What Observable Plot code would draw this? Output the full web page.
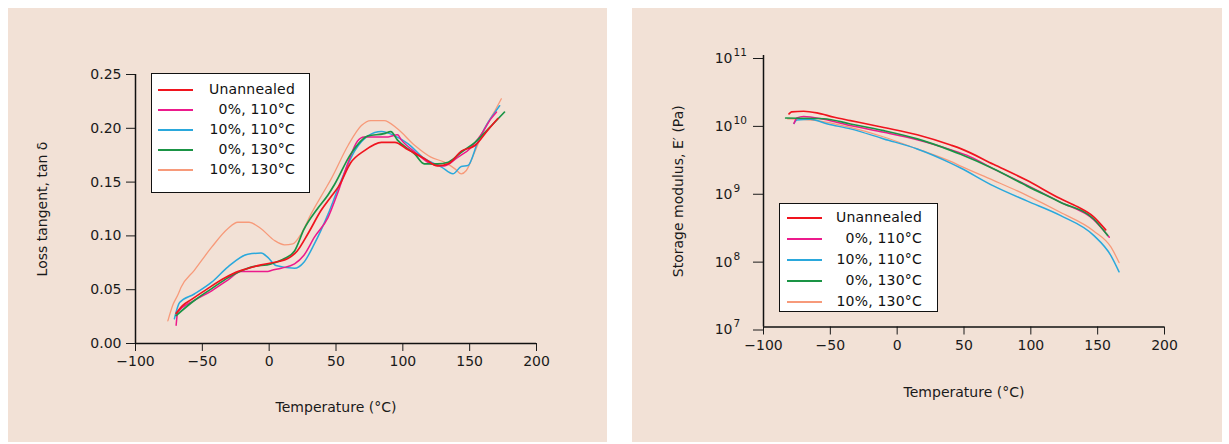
<!DOCTYPE html>
<html>
<head>
<meta charset="utf-8">
<script src="https://cdn.jsdelivr.net/npm/d3@7"></script>
<script src="https://cdn.jsdelivr.net/npm/@observablehq/plot@0.6"></script>
<style>
  html, body { margin: 0; padding: 0; background: #ffffff; }
  body { width: 1229px; height: 444px; position: relative; overflow: hidden; font-family: "DejaVu Sans", sans-serif; color: #1a1a1a; }
  .panel { position: absolute; top: 8px; height: 434px; background: #f2e1d6; }
  .chart { position: absolute; top: 0; }
  .legend { position: absolute; background: #ffffff; border: 1.5px solid #111; box-sizing: border-box; }
  .sw { position: absolute; height: 0; border-top: 2px solid; }
  .lab { position: absolute; font-size: 14px; line-height: 16px; white-space: nowrap; text-align: right; letter-spacing: 0.2px; color: #111; }
</style>
</head>
<body>
<div class="panel" style="left:8px;width:599px;"></div>
<div class="panel" style="left:632px;width:590px;"></div>
<div id="left" class="chart" style="left:0px;"></div>
<div id="right" class="chart" style="left:620px;"></div>
<script>
// ---------- series ----------
const seriesNames = ["Unannealed", "0%, 110°C", "10%, 110°C", "0%, 130°C", "10%, 130°C"];
const seriesColors = ["#f0141e", "#ec1a8c", "#2aa8dc", "#1a9445", "#f79a7a"];

// ---------- tick values ----------
const tempTicks = [-100, -50, 0, 50, 100, 150, 200];
const lossTicks = [0, 0.05, 0.10, 0.15, 0.20, 0.25];
const modulusTicks = [1e7, 1e8, 1e9, 1e10, 1e11];

// ---------- loss tangent (tan δ) ----------
const lossTempUnannealed = [-69.6, -65, -58, -46, -33, -23, -18, -6, 6, 14, 21, 29, 39, 46, 52, 61, 71, 84, 94, 104, 116, 126, 134, 144, 154, 164, 171];
const lossUnannealed     = [0.028, 0.035, 0.041, 0.051, 0.061, 0.067, 0.069, 0.073, 0.076, 0.079, 0.086, 0.102, 0.124, 0.136, 0.146, 0.168, 0.179, 0.187, 0.187, 0.180, 0.172, 0.165, 0.167, 0.179, 0.184, 0.199, 0.209];

const lossTemp0_110 = [-69.6, -68.4, -56, -43, -31, -21, -1, 2, 9, 19, 26, 34, 44, 51, 59, 66, 71, 89, 96, 99, 109, 121, 131, 141, 151, 159, 166, 170];
const loss0_110     = [0.017, 0.029, 0.040, 0.049, 0.059, 0.067, 0.067, 0.068, 0.070, 0.074, 0.082, 0.099, 0.117, 0.139, 0.168, 0.188, 0.192, 0.192, 0.194, 0.189, 0.178, 0.167, 0.165, 0.173, 0.182, 0.195, 0.209, 0.215];

const lossTemp10_110 = [-70.9, -67, -56, -43, -31, -16, -6, -1, 5, 19, 26, 34, 44, 54, 64, 74, 84, 94, 104, 116, 129, 137.5, 143.7, 148.7, 156, 164, 169, 172.4];
const loss10_110     = [0.023, 0.038, 0.046, 0.057, 0.071, 0.083, 0.084, 0.080, 0.0725, 0.070, 0.0756, 0.093, 0.120, 0.152, 0.179, 0.193, 0.197, 0.193, 0.1856, 0.172, 0.164, 0.1577, 0.1645, 0.1654, 0.187, 0.206, 0.215, 0.221];

const lossTemp0_130 = [-69.6, -56, -43, -31, -20, -13.5, 1.5, 11.5, 19, 26, 36, 44, 49, 61, 74, 86, 91, 96, 109, 116, 126, 134, 144, 154, 164, 176];
const loss0_130     = [0.026, 0.040, 0.051, 0.061, 0.068, 0.071, 0.074, 0.079, 0.086, 0.106, 0.125, 0.138, 0.148, 0.176, 0.193, 0.195, 0.197, 0.189, 0.176, 0.167, 0.167, 0.1685, 0.178, 0.187, 0.1995, 0.215];

const lossTemp10_130 = [-75.8, -72, -68, -66, -56, -43, -31, -23.5, -15, -6, 4, 11.5, 17.7, 24, 31.4, 41.4, 46.4, 59, 69, 76, 86, 96, 109, 121, 131, 139, 143.7, 147.5, 153.7, 161, 169, 173.7];
const loss10_130     = [0.021, 0.036, 0.046, 0.052, 0.068, 0.0895, 0.1066, 0.1127, 0.1127, 0.1066, 0.0957, 0.0917, 0.0926, 0.102, 0.1205, 0.1422, 0.153, 0.184, 0.2026, 0.2072, 0.2072, 0.1995, 0.184, 0.1732, 0.1685, 0.1623, 0.1577, 0.1608, 0.1778, 0.1995, 0.2165, 0.2274];

// ---------- storage modulus E' (Pa) ----------
const modTempUnannealed = [-80.9, -79, -70, -60, -47, -35, -10, 15, 40, 47.5, 72, 97, 122, 135, 147, 156];
const modUnannealed     = [1.38e10, 1.48e10, 1.51e10, 1.43e10, 1.23e10, 1.10e10, 8.7e9, 6.8e9, 4.8e9, 4.25e9, 2.5e9, 1.45e9, 7.8e8, 5.9e8, 4.2e8, 2.7e8];

const modTemp0_110 = [-77.2, -75, -70, -55, -35, -10, 15, 40, 52, 72, 97, 122, 147, 158.7];
const mod0_110     = [1.0e10, 1.2e10, 1.26e10, 1.15e10, 9.3e9, 7.4e9, 5.75e9, 4.1e9, 3.4e9, 2.14e9, 1.23e9, 6.9e8, 3.8e8, 2.1e8];

const modTemp10_110 = [-77.2, -75, -65, -52, -35, -10, 15, 40, 47.5, 72, 97, 122, 147, 160, 166];
const mod10_110     = [1.0e10, 1.12e10, 1.15e10, 9.8e9, 8.3e9, 5.9e9, 4.2e9, 2.6e9, 2.2e9, 1.2e9, 7.2e8, 4.4e8, 2.24e8, 1.12e8, 6.5e7];

const modTemp0_130 = [-83.4, -55, -35, -10, 15, 40, 47.5, 72, 97, 122, 147, 157.4];
const mod0_130     = [1.20e10, 1.17e10, 9.8e9, 7.8e9, 5.9e9, 4.0e9, 3.5e9, 2.14e9, 1.20e9, 6.9e8, 3.9e8, 2.24e8];

const modTemp10_130 = [-82, -60, -35, -10, 15, 40, 47.5, 72, 97, 122, 147, 160, 166];
const mod10_130     = [1.17e10, 1.10e10, 8.7e9, 6.3e9, 4.2e9, 2.75e9, 2.35e9, 1.45e9, 8.7e8, 4.9e8, 2.6e8, 1.5e8, 8.9e7];

// ---------- build tables ----------
const lossTemps = [lossTempUnannealed, lossTemp0_110, lossTemp10_110, lossTemp0_130, lossTemp10_130];
const lossVals  = [lossUnannealed, loss0_110, loss10_110, loss0_130, loss10_130];
const modTemps  = [modTempUnannealed, modTemp0_110, modTemp10_110, modTemp0_130, modTemp10_130];
const modVals   = [modUnannealed, mod0_110, mod10_110, mod0_130, mod10_130];

function table(temps, vals) {
  return seriesNames.map((s, i) => temps[i].map((t, j) => ({series: s, T: t, v: vals[i][j]})));
}
const lossTables = table(lossTemps, lossVals);
const modTables = table(modTemps, modVals);

const widths = [1.7, 1.5, 1.5, 1.7, 1.3];
const drawOrder = [4, 2, 1, 3, 0];

const baseStyle = {background: "transparent", fontFamily: '"DejaVu Sans", sans-serif', fontSize: "14px", color: "#1a1a1a", overflow: "visible"};

const leftPlot = Plot.plot({
  width: 620, height: 444,
  marginLeft: 135, marginRight: 84, marginTop: 74, marginBottom: 101,
  style: baseStyle,
  x: {domain: [-100, 200], ticks: tempTicks, tickSize: 8, tickPadding: 5, label: "Temperature (°C)", labelAnchor: "center", labelArrow: "none", labelOffset: 68},
  y: {domain: [0, 0.25], ticks: lossTicks, tickFormat: d3.format(".2f"), tickSize: 9, tickPadding: 5, label: "Loss tangent, tan δ", labelAnchor: "center", labelArrow: "none", labelOffset: 98},
  color: {domain: seriesNames, range: seriesColors},
  marks: [
    ...drawOrder.map(i => Plot.line(lossTables[i], {x: "T", y: "v", stroke: "series", strokeWidth: widths[i], curve: "monotone-x"})),
    Plot.ruleX([-100], {stroke: "#111", strokeWidth: 1.5}),
    Plot.ruleY([0], {stroke: "#111", strokeWidth: 1.5})
  ]
});
document.getElementById("left").appendChild(leftPlot);

const rightPlot = Plot.plot({
  width: 609, height: 444,
  marginLeft: 143, marginRight: 65, marginTop: 55, marginBottom: 117.5,
  style: baseStyle,
  x: {domain: [-100, 200], ticks: tempTicks, tickSize: 8, tickPadding: 5, label: "Temperature (°C)", labelAnchor: "center", labelArrow: "none", labelOffset: 70},
  y: {type: "log", domain: [1e7, 1e11]},
  color: {domain: seriesNames, range: seriesColors},
  marks: [
    Plot.axisY(modulusTicks, {tickFormat: () => "10", tickSize: 10, tickPadding: 21, dy: 3, label: "Storage modulus, E\u2032 (Pa)", labelAnchor: "center", labelArrow: "none", labelOffset: 90}),
    Plot.text(modulusTicks, {y: d => d, frameAnchor: "left", text: d => String(Math.round(Math.log10(d))), dx: -30, dy: -3, textAnchor: "start", fontSize: 10.5, fill: "#1a1a1a"}),
    ...drawOrder.map(i => Plot.line(modTables[i], {x: "T", y: "v", stroke: "series", strokeWidth: widths[i], curve: "monotone-x"})),
    Plot.ruleX([-100], {stroke: "#111", strokeWidth: 1.5}),
    Plot.ruleY([1e7], {stroke: "#111", strokeWidth: 1.5})
  ]
});
document.getElementById("right").appendChild(rightPlot);

// ---------- legends (HTML overlays) ----------
function legend(left, top, w, h, first, step, sx0, sx1, textRight) {
  const box = document.createElement("div");
  box.className = "legend";
  Object.assign(box.style, {left: left + "px", top: top + "px", width: w + "px", height: h + "px"});
  seriesNames.forEach((s, i) => {
    const cy = first + i * step;
    const sw = document.createElement("div");
    sw.className = "sw";
    Object.assign(sw.style, {left: sx0 + "px", width: (sx1 - sx0) + "px", top: (cy - 1) + "px", borderTopColor: seriesColors[i]});
    box.appendChild(sw);
    const lab = document.createElement("div");
    lab.className = "lab";
    lab.textContent = s;
    Object.assign(lab.style, {right: (w - textRight) + "px", top: (cy - 9) + "px"});
    box.appendChild(lab);
  });
  document.body.appendChild(box);
}
legend(151, 73, 159, 120, 16, 20, 6, 41, 145);
legend(779, 203, 159, 109, 14, 21, 7, 42, 144);
</script>
</body>
</html>
